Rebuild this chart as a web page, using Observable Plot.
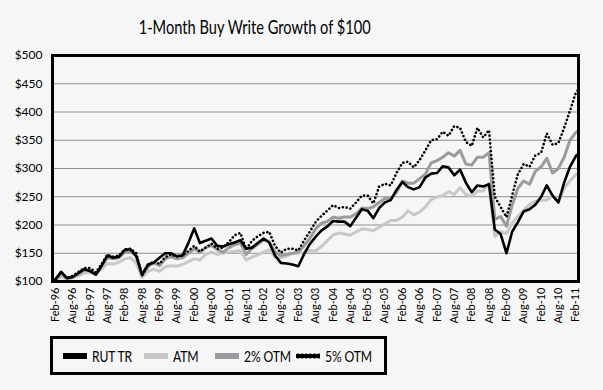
<!DOCTYPE html>
<html><head><meta charset="utf-8">
<script src="https://cdn.jsdelivr.net/npm/d3@7"></script>
<script src="https://cdn.jsdelivr.net/npm/@observablehq/plot@0.6"></script>
<style>
html,body{margin:0;padding:0;background:#f6f6f6;}
body{width:603px;height:390px;position:relative;overflow:hidden;font-family:Lato,"Liberation Sans",sans-serif;color:#000;}
#title{position:absolute;left:0;top:16px;width:510px;text-align:center;font-size:19px;line-height:22px;}
#title span{display:inline-block;transform:scaleX(0.77);transform-origin:center;}
#chart{position:absolute;left:0;top:40px;}
#legend{position:absolute;left:50px;top:336px;width:337px;height:39px;box-sizing:border-box;border:3px solid #000;}
.item{position:absolute;top:0;height:33px;display:flex;align-items:center;font-size:16px;white-space:nowrap;}
.item svg{margin-right:5px;}
.item span{display:inline-block;transform:scaleX(0.76);transform-origin:left center;letter-spacing:-0.2px;}
</style></head>
<body>
<div id="title"><span>1-Month Buy Write Growth of $100</span></div>
<div id="chart"></div>
<div id="legend"></div>
<script>
// Series names and styles
const seriesNames = ["RUT TR", "ATM", "2% OTM", "5% OTM"];
const seriesColors = ["#000000", "#c8c8c8", "#9a9a9f", "#000000"];

// Dates: start Jan-96, then every other month Feb-96 ... Feb-11, then Mar-11
const firstDate = "1996-01";
const evenStart = "1996-02";
const evenCount = 91;
const lastDate = "2011-03";

// Values (growth of $100)
const rutTR = [100,
 104,117,106,108,115,122,118,112,128,146,142,144,156,157,145,112,130,133,142,150,
 150,145,146,168,194,168,172,176,163,162,166,169,173,158,160,168,176,169,146,133,
 132,130,127,148,166,179,190,197,207,206,206,198,213,228,225,212,230,240,244,262,
 276,267,263,267,284,291,292,304,302,288,298,275,258,270,268,272,192,184,150,188,
 205,224,228,236,250,270,252,240,275,303,322,
 326];
const atm = [100,
 102,110,104,106,110,115,116,113,122,132,131,134,140,142,133,107,118,122,118,126,
 128,127,130,135,140,138,148,152,148,150,152,153,155,138,143,147,152,156,143,142,
 145,150,150,152,155,154,162,172,182,186,184,182,188,193,192,190,196,202,208,208,
 214,225,218,223,232,245,250,252,259,254,266,254,251,260,260,274,180,188,185,203,
 215,226,236,242,244,244,252,240,265,278,289,
 291];
const otm2 = [100,
 102,114,105,108,113,120,120,113,127,142,140,142,152,153,145,110,126,133,128,140,
 144,140,142,150,158,152,160,164,156,152,160,165,168,148,158,166,174,170,152,146,
 148,150,152,163,176,193,203,206,214,212,214,214,220,230,229,232,240,247,247,258,
 278,274,274,282,290,310,314,320,328,322,332,308,306,320,320,328,210,215,198,235,
 265,278,272,295,303,318,292,300,320,350,364,
 366];
const otm5 = [100,
 103,117,106,110,117,124,124,116,131,147,144,146,157,158,150,111,128,136,131,143,
 148,144,146,154,163,153,160,167,158,160,170,182,186,157,172,180,186,188,163,151,
 158,158,155,172,188,205,216,225,235,230,232,229,240,252,252,238,268,273,270,292,
 310,312,302,315,332,350,352,365,358,375,372,347,340,372,355,368,250,232,214,252,
 290,308,303,323,328,362,342,345,372,402,434,
 440];

// Axis ticks
const yTicks = [100, 150, 200, 250, 300, 350, 400, 450, 500];
const tickLabels = ["Feb-96","Aug-96","Feb-97","Aug-97","Feb-98","Aug-98","Feb-99","Aug-99",
 "Feb-00","Aug-00","Feb-01","Aug-01","Feb-02","Aug-02","Feb-03","Aug-03","Feb-04","Aug-04",
 "Feb-05","Aug-05","Feb-06","Aug-06","Feb-07","Aug-07","Feb-08","Aug-08","Feb-09","Aug-09",
 "Feb-10","Aug-10","Feb-11"];

const parseYM = d3.utcParse("%Y-%m");
const dates = [parseYM(firstDate),
  ...d3.range(evenCount).map(i => d3.utcMonth.offset(parseYM(evenStart), 2 * i)),
  parseYM(lastDate)];
const parseTick = d3.utcParse("%b-%y");
const tickDates = tickLabels.map(parseTick);
const fmtTick = d3.utcFormat("%b-%y");

const allValues = [rutTR, atm, otm2, otm5];
const rows = seriesNames.map((name, s) => allValues[s].map((v, i) => ({date: dates[i], value: v, series: name})));

const lineStyles = {
  "RUT TR": {strokeWidth: 2.6},
  "ATM": {strokeWidth: 3},
  "2% OTM": {strokeWidth: 3},
  "5% OTM": {strokeWidth: 2.6, strokeDasharray: "0.1,3.8", strokeLinecap: "round"}
};
const drawOrder = ["ATM", "2% OTM", "RUT TR", "5% OTM"];

const plot = Plot.plot({
  width: 603,
  height: 292,
  marginTop: 15,
  marginBottom: 51,
  marginLeft: 52,
  marginRight: 25,
  style: {background: "transparent", fontFamily: "Lato,'Liberation Sans',sans-serif", color: "#000"},
  x: {type: "utc", domain: [parseYM("1996-01"), parseYM("2011-03")]},
  y: {domain: [100, 500]},
  marks: [
    Plot.gridY(yTicks.slice(1, -1), {stroke: "#8e8e98", strokeOpacity: 1, strokeWidth: 1}),
    ...drawOrder.map(name => {
      const s = seriesNames.indexOf(name);
      return Plot.line(rows[s], {x: "date", y: "value", stroke: seriesColors[s], ...lineStyles[name], strokeLinejoin: "round"});
    }),
    Plot.frame({stroke: "#000", strokeWidth: 3}),
    Plot.axisY(yTicks, {tickSize: 0, tickPadding: 10, fontSize: 12, tickFormat: d => "$" + d, label: null}),
    Plot.axisX(tickDates, {tickSize: 0, tickPadding: 6, tickRotate: -90, fontSize: 11, tickFormat: fmtTick, label: null})
  ]
});
document.getElementById("chart").appendChild(plot);

// Legend
const legend = document.getElementById("legend");
const legendX = [10, 91, 162, 243];
seriesNames.forEach((name, s) => {
  const item = document.createElement("div");
  item.className = "item";
  item.style.left = legendX[s] + "px";
  const st = lineStyles[name];
  const dash = st.strokeDasharray ? `stroke-dasharray="0.1,4" stroke-linecap="round" stroke-width="5"` : `stroke-width="6"`;
  item.innerHTML = `<svg width="24" height="10"><line x1="${st.strokeDasharray ? 2 : 0}" y1="5" x2="24" y2="5" stroke="${seriesColors[s]}" ${dash}/></svg><span>${name}</span>`;
  legend.appendChild(item);
});
</script>
</body></html>
